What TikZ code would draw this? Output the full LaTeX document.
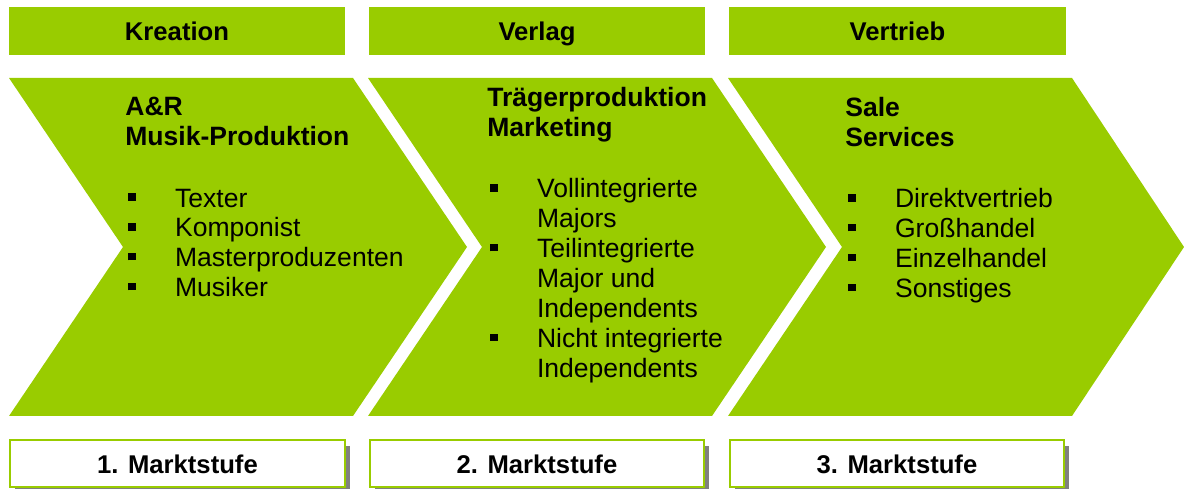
\documentclass[tikz,border=0pt]{standalone}
\usepackage{fontspec}
\setmainfont{Liberation Sans}
\usetikzlibrary{shadows}

\definecolor{gruen}{RGB}{153,204,0}
\newcommand{\punkt}{\makebox[28.3pt][l]{\hspace{1.7pt}\rule[3.6pt]{4.2pt}{4.2pt}}}
\newcommand{\weiter}{\hspace*{28.3pt}}

\begin{document}
\begin{tikzpicture}[x=0.02cm,y=-0.02cm,
  kopf/.style={fill=gruen,minimum width=6.73cm,minimum height=0.96cm,inner sep=0,
    text height=11pt,text depth=0pt,font=\fontsize{14.6}{17}\selectfont\bfseries},
  block/.style={anchor=north west,align=left,inner sep=0,
    font=\fontsize{15.1}{17}\selectfont},
  stufe/.style={draw=gruen,line width=0.04cm,fill=white,minimum width=6.7cm,
    minimum height=0.94cm,inner sep=0,text height=11pt,text depth=0pt,
    font=\fontsize{14.6}{17}\selectfont\bfseries,
    drop shadow={shadow xshift=0.1cm,shadow yshift=-0.12cm,fill=black!50,opacity=1}}]
\useasboundingbox (0,0) rectangle (1184,489);

% Kopfzeile
\node (kreation) [kopf] at (177,31) {Kreation};
\node (verlag) [kopf] at (537,31) {Verlag};
\node (vertrieb) [kopf] at (897.5,31) {Vertrieb};

% Pfeile der Wertschoepfungskette
\fill [gruen] (9,78) -- (353,78) -- (467,247) -- (353,416) -- (9,416) -- (123,247) -- cycle;
\fill [gruen] (368,78) -- (712,78) -- (826,247) -- (712,416) -- (368,416) -- (482,247) -- cycle;
\fill [gruen] (728,78) -- (1072,78) -- (1184,247) -- (1072,416) -- (728,416) -- (842,247) -- cycle;

\node (ar) [block] at (125,97) {\textbf{A\&R}\\\textbf{Musik-Produktion}\\[18pt]
  \punkt Texter\\\punkt Komponist\\\punkt Masterproduzenten\\\punkt Musiker};
\node (traeger) [block] at (487,87) {\textbf{Trägerproduktion}\\\textbf{Marketing}\\[18pt]
  \punkt Vollintegrierte\\\weiter Majors\\\punkt Teilintegrierte\\\weiter Major und\\
  \weiter Independents\\\punkt Nicht integrierte\\\weiter Independents};
\node (sale) [block] at (845,97) {\textbf{Sale}\\\textbf{Services}\\[18pt]
  \punkt Direktvertrieb\\\punkt Großhandel\\\punkt Einzelhandel\\\punkt Sonstiges};

% Marktstufen
\node (stufeA) [stufe] at (177.5,463.5) {1. Marktstufe};
\node (stufeB) [stufe] at (537,463.5) {2. Marktstufe};
\node (stufeC) [stufe] at (897,463.5) {3. Marktstufe};
\end{tikzpicture}
\end{document}
